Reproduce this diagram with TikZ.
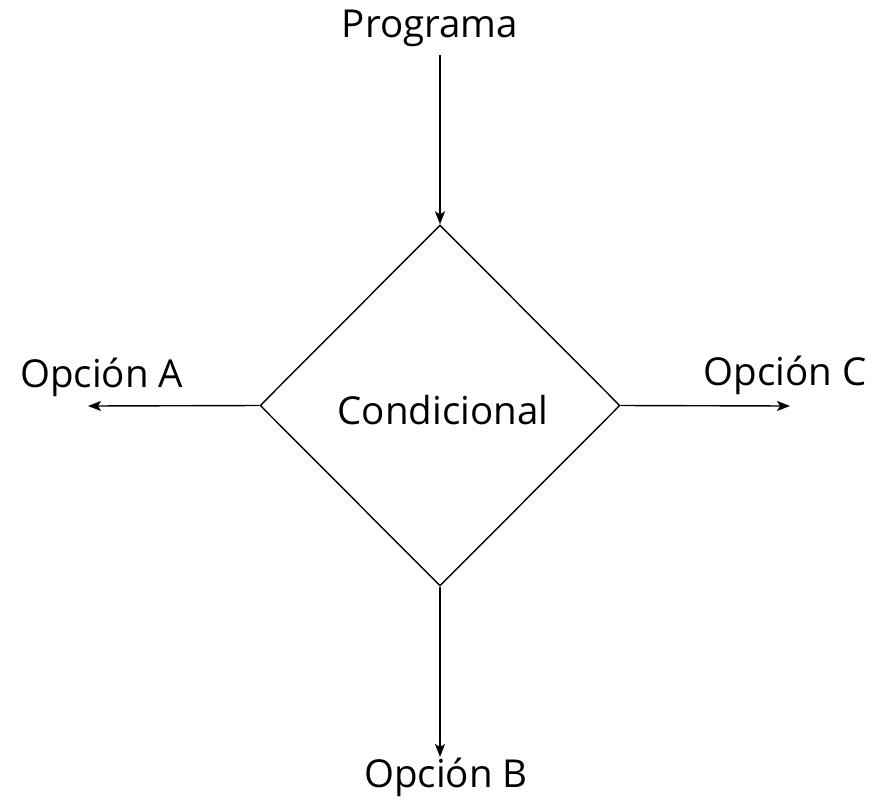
\documentclass[tikz,border=0pt]{standalone}
\usepackage{fontspec}
\setmainfont{Open Sans}
\usepackage{tikz}
\usetikzlibrary{arrows.meta}
\usetikzlibrary{shapes.geometric}
\usetikzlibrary{positioning}
\tikzset{
    flecha/.style={draw=black, line width=1.4pt, -{Stealth[length=13pt,width=10pt,inset=3pt]}},
    rombo/.style={diamond, draw=black, line width=1.4pt, inner sep=0pt, minimum width=360pt, minimum height=361pt},
    etiqueta/.style={inner sep=0pt, font=\fontsize{38.5}{44}\selectfont},
}
\begin{document}
\begin{tikzpicture}[x=1pt, y=-1pt]
	\useasboundingbox (0,0) rectangle (873,801);
	\node[rombo] (cond) at (440,405.5) {};
	\node[etiqueta, anchor=base] (txtcond) at (443,424) {Condicional};
	\node[etiqueta, anchor=base] (prog) at (430,37) {Programa};
	\node[etiqueta, anchor=base west] (opa) at (20,387) {Opción A};
	\node[etiqueta, anchor=base east] (opc) at (867,385) {Opción C};
	\node[etiqueta, anchor=base] (opb) at (446,787) {Opción B};
	\coordinate (ini) at (440,55);
	\coordinate (finA) at (88,406);
	\coordinate (finC) at (790,406);
	\coordinate (finB) at (440,757);
	\draw[flecha] (ini)--(cond.north);
	\draw[flecha] (cond.west)--(finA);
	\draw[flecha] (cond.east)--(finC);
	\draw[flecha] (cond.south)--(finB);
\end{tikzpicture}
\end{document}
